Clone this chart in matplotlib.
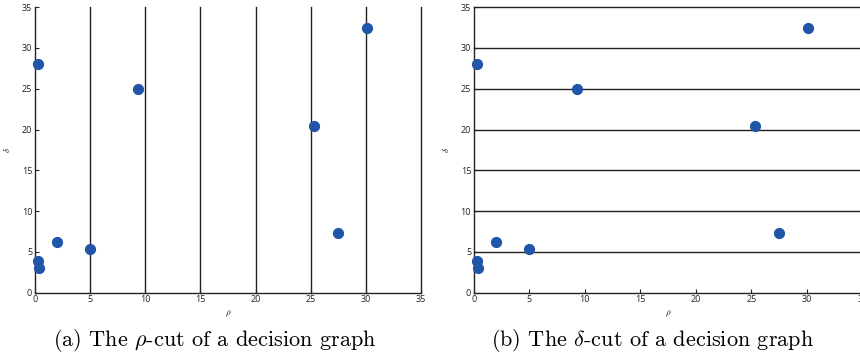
import matplotlib
matplotlib.use("Agg")
import matplotlib.pyplot as plt

plt.rcParams['mathtext.fontset'] = 'cm'
plt.rcParams['font.family'] = ['Open Sans', 'DejaVu Sans']

# decision graph points (rho, delta)
rho = [0.3, 9.3, 25.3, 30.1, 0.24, 0.4, 2.0, 5.0, 27.5]
delta = [28.05, 25.0, 20.4, 32.4, 3.85, 3.05, 6.2, 5.3, 7.35]
cuts = [5, 10, 15, 20, 25, 30, 35]
ticks = [0, 5, 10, 15, 20, 25, 30, 35]
captions = [r"(a) The $\rho$-cut of a decision graph",
            r"(b) The $\delta$-cut of a decision graph"]

DOT = '#2155a8'
LINE = '#222222'

fig = plt.figure(figsize=(8.6, 3.6), dpi=100)
ax1 = fig.add_axes([0.0407, 0.187, 0.449, 0.793])
ax2 = fig.add_axes([0.551, 0.187, 0.4517, 0.793])


def style(ax):
    ax.set_xlim(0, 35)
    ax.set_ylim(0, 35)
    ax.set_xticks(ticks)
    ax.set_yticks(ticks)
    ax.tick_params(direction='in', length=3, width=0.8, labelsize=6.5,
                   colors=LINE, pad=2)
    for s in ['top', 'right']:
        ax.spines[s].set_visible(False)
    for s in ['left', 'bottom']:
        ax.spines[s].set_linewidth(1.0)
        ax.spines[s].set_color(LINE)
    ax.set_xlabel(r'$\rho$', fontsize=6.5, labelpad=3)
    ax.set_ylabel(r'$\delta$', fontsize=6.5, labelpad=7)


# rho-cut: vertical lines
style(ax1)
for c in cuts:
    ax1.axvline(c, color=LINE, lw=1.0, zorder=1, clip_on=False)
ax1.scatter(rho, delta, s=50, color=DOT, zorder=3, clip_on=False)

# delta-cut: horizontal lines
style(ax2)
for c in cuts:
    ax2.axhline(c, color=LINE, lw=1.0, zorder=1, clip_on=False)
ax2.scatter(rho, delta, s=50, color=DOT, zorder=3, clip_on=False)

fig.text(0.25, 0.055, captions[0], ha='center', va='center',
         fontsize=16, family='cmr10')
fig.text(0.759, 0.055, captions[1], ha='center', va='center',
         fontsize=16, family='cmr10')

fig.savefig('out.png', dpi=100)
